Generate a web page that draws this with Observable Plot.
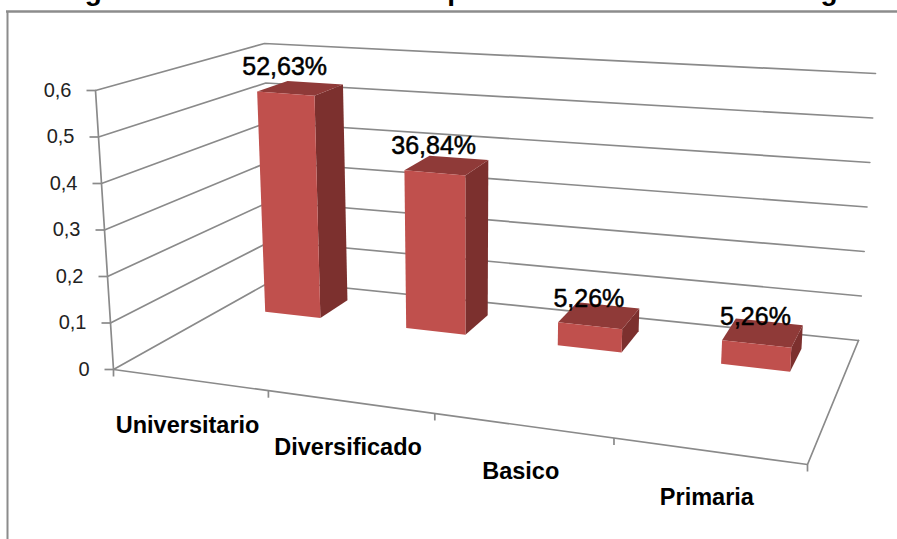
<!DOCTYPE html>
<html><head><meta charset="utf-8">
<script src="https://cdn.jsdelivr.net/npm/d3@7"></script>
<script src="https://cdn.jsdelivr.net/npm/@observablehq/plot@0.6"></script>
<style>html,body{margin:0;padding:0;background:#fff;overflow:hidden}svg{display:block}</style>
</head><body><div id="chart"></div>
<script>
const categories = ["Universitario","Diversificado","Basico","Primaria"];
const values = [0.5263,0.3684,0.0526,0.0526];
const labels = ["52,63%","36,84%","5,26%","5,26%"];
const yTicks = [0,0.1,0.2,0.3,0.4,0.5,0.6];
const yTickLabels = ["0","0,1","0,2","0,3","0,4","0,5","0,6"];
const titleText = "La gestión fundamental del departamento del talento a cargo";

// 3D view of the chart box: where its corners land on the page
const box = {
  floor:{fl:[113,369],fr:[807,464],br:[858,340],bl:[272,280]},
  roof:{fl:[95,90],fr:[823,174],br:[875,73],bl:[264,43]},
  vMax:0.6, warp:1.16, barHalf:0.05, d0:0.70, d1:0.89
};
const lerp=(a,b,t)=>[a[0]+(b[0]-a[0])*t,a[1]+(b[1]-a[1])*t];
const warp=u=>u/(u+(1-u)*box.warp);
function project(u,d,v){
  const w=warp(u);
  const plane=p=>lerp(lerp(p.fl,p.fr,w),lerp(p.bl,p.br,w),d);
  return lerp(plane(box.floor),plane(box.roof),v/box.vMax);
}
const pt=(u,d,v,k)=>{const [x,y]=project(u,d,v);return {x,y,k};};
const n=categories.length;
const centre=i=>(i+0.5)/n;

// gridlines: front-left → back-left → back-right at every tick
const grid=yTicks.flatMap(v=>[pt(0,0,v,v),pt(0,1,v,v),pt(1,1,v,v)]);
const axisY=[pt(0,0,0,"a"),pt(0,0,box.vMax,"a")];
const floorEdge=[pt(0,0,0,"f"),pt(1,0,0,"f"),pt(1,1,0,"f")];
const yTickSegs=yTicks.map(v=>{const [x,y]=project(0,0,v);return {x1:x-9,x2:x,y1:y,y2:y};});
const xTickSegs=d3.range(0,n+1).map(i=>{const [x,y]=project(i/n,0,0);return {x1:x,x2:x,y1:y,y2:y+7};});

// bar faces
const front=[],side=[],top_=[];
values.forEach((v,i)=>{
  const a=centre(i)-box.barHalf,b=centre(i)+box.barHalf,{d0,d1}=box;
  front.push(pt(a,d0,0,i),pt(b,d0,0,i),pt(b,d0,v,i),pt(a,d0,v,i));
  side.push(pt(b,d0,0,i),pt(b,d1,0,i),pt(b,d1,v,i),pt(b,d0,v,i));
  top_.push(pt(a,d0,v,i),pt(b,d0,v,i),pt(b,d1,v,i),pt(a,d1,v,i));
});
const face=(data,fill)=>Plot.line(data,{x:"x",y:"y",z:"k",fill,stroke:"none",curve:"linear-closed"});

const yLabelData=yTicks.map((v,i)=>{const [x,y]=project(0,0,v);return {x,y,t:yTickLabels[i]};});
const catData=categories.map((c,i)=>{const [x,y]=project(centre(i),0,0);return {x,y,t:c};});
const valData=values.map((v,i)=>{const [x,y]=project(centre(i),box.d0,v);return {x,y,t:labels[i]};});

const GREY="#8a8a8a";
const fam="Liberation Sans, Arial, sans-serif";
const chart=Plot.plot({
  width:897,height:539,margin:0,
  x:{domain:[0,897],range:[0,897],axis:null},
  y:{domain:[0,539],range:[0,539],axis:null},
  style:{background:"#fff",fontFamily:fam},
  marks:[
    Plot.ruleX([7],{y1:11,y2:539,stroke:"#8c8c8c",strokeWidth:2}),
    Plot.ruleY([11],{x1:6,x2:897,stroke:"#8c8c8c",strokeWidth:2.5}),
    Plot.text([titleText],{x:()=>449,y:()=>-9,fontSize:28,fontWeight:"bold",fill:"#000",textAnchor:"middle",lineAnchor:"middle"}),
    Plot.line(grid,{x:"x",y:"y",z:"k",stroke:GREY,strokeWidth:1.7}),
    Plot.line(axisY,{x:"x",y:"y",stroke:GREY,strokeWidth:1.7}),
    Plot.line(floorEdge,{x:"x",y:"y",stroke:GREY,strokeWidth:1.7}),
    Plot.link(yTickSegs,{x1:"x1",x2:"x2",y1:"y1",y2:"y2",stroke:GREY,strokeWidth:1.7}),
    Plot.link(xTickSegs,{x1:"x1",x2:"x2",y1:"y1",y2:"y2",stroke:GREY,strokeWidth:1.7}),
    face(side,"#7c302e"),
    face(top_,"#8f3a38"),
    face(front,"#c0504d"),
    Plot.text(yLabelData,{x:"x",y:"y",text:"t",dx:-24,textAnchor:"end",fontSize:20,fill:"#222"}),
    Plot.text(catData,{x:"x",y:"y",text:"t",dx:-2,dy:46,fontSize:23.5,fontWeight:"bold",fill:"#000"}),
    Plot.text(valData,{x:"x",y:"y",text:"t",dx:-1,dy:-27,fontSize:25,fill:"#000",stroke:"#000",strokeWidth:0.5})
  ]
});
document.getElementById("chart").append(chart);
</script></body></html>
